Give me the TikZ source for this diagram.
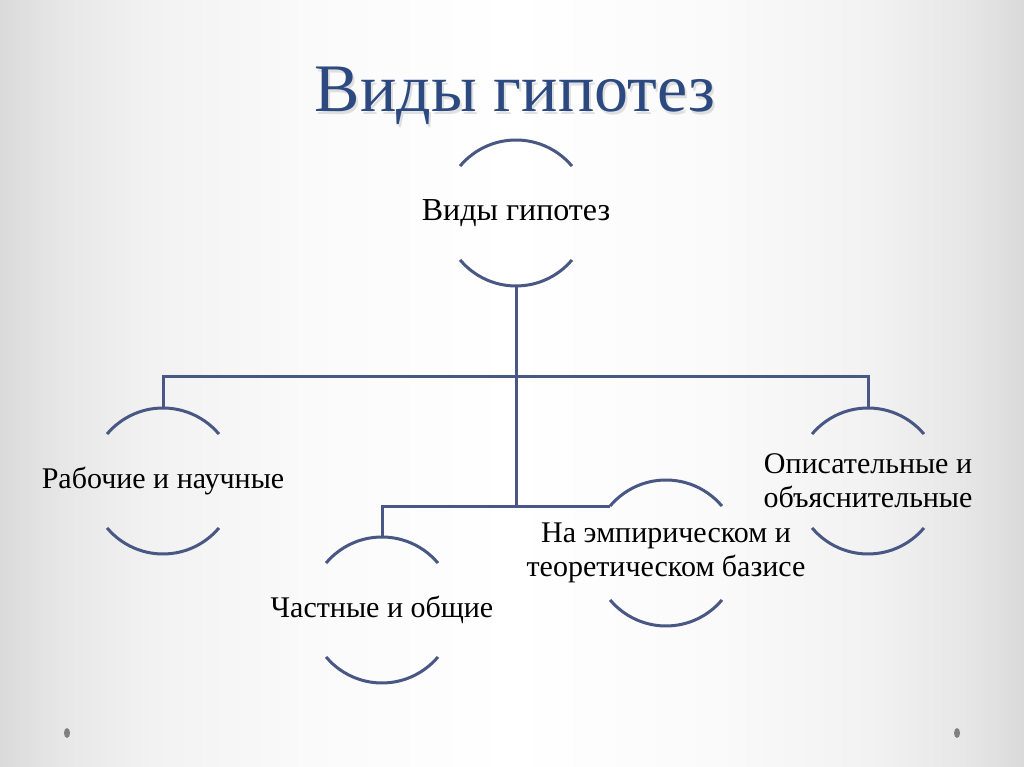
\documentclass[tikz,border=0pt]{standalone}
\usepackage{fontspec}
\setmainfont{Liberation Serif}
\definecolor{lineblue}{RGB}{72,87,132}
\definecolor{titleblue}{RGB}{44,74,128}
\definecolor{dotgray}{RGB}{128,128,128}
\definecolor{bgA}{RGB}{218,218,218}
\definecolor{bgB}{RGB}{231,231,231}
\definecolor{bgC}{RGB}{242,242,242}
\definecolor{bgD}{RGB}{250,250,250}
\pgfdeclarehorizontalshading{slidebg}{100bp}{color(0bp)=(bgA); color(25bp)=(bgA); color(28bp)=(bgB); color(32.5bp)=(bgC); color(40bp)=(bgD); color(50bp)=(white); color(60bp)=(bgD); color(67.5bp)=(bgC); color(72bp)=(bgB); color(75bp)=(bgA); color(100bp)=(bgA)}
\tikzset{
  hyp/.style={inner sep=0pt, outer sep=0pt, align=center,
              font=\fontsize{30}{34}\selectfont, text=black},
  conn/.style={draw=lineblue, line width=3pt},
  arcline/.style={draw=lineblue, line width=3pt},
  titlefont/.style={font=\fontsize{68}{80}\selectfont}
}
\begin{document}
\begin{tikzpicture}[x=1pt,y=1pt]
\useasboundingbox (0,0) rectangle (1024,767);
\shade[shading=slidebg] (0,0) rectangle (1024,767);
% title
\node[titlefont, text=gray!40, opacity=0.6] (titleshadow) at (517,668) {Виды гипотез};
\node[titlefont, text=titleblue] (title) at (515,671) {Виды гипотез};
% circle centres
\coordinate (t) at (516,554);
\coordinate (a) at (163,286);
\coordinate (b) at (382,157);
\coordinate (c) at (666,214);
\coordinate (e) at (868,286);
% texts
\node[hyp, font=\fontsize{32}{36}\selectfont] (tt) at (t) {Виды гипотез};
\node[hyp] (at) at (a) {Рабочие и научные};
\node[hyp] (bt) at (b) {Частные и общие};
\node[hyp] (ct) at (c) {На эмпирическом и\\теоретическом базисе};
\node[hyp] (et) at (e) {Описательные и\\объяснительные};
% arcs
\foreach \n in {t,a,b,c,e}{
  \draw[arcline] ([shift={(40:73)}]\n) arc[start angle=40, end angle=140, radius=73pt];
  \draw[arcline] ([shift={(220:73)}]\n) arc[start angle=220, end angle=320, radius=73pt];
}
% connector anchors on the circles
\coordinate (tS) at ([shift={(0,-73)}]t);
\coordinate (aN) at ([shift={(0,73)}]a);
\coordinate (bN) at ([shift={(0,73)}]b);
\coordinate (cW) at ([shift={(140:73)}]c);
\coordinate (eN) at ([shift={(0,73)}]e);
\coordinate (j1) at (516,390);
\coordinate (j2) at (tS |- cW);
\draw[conn] (tS) -- (j2);
\draw[conn] (aN) |- (j1) -| (eN);
\draw[conn] (bN) |- (j2) -- (cW);
% dots
\fill[dotgray] (67,34) ellipse[x radius=3pt, y radius=5pt];
\fill[dotgray] (957,34) ellipse[x radius=3pt, y radius=5pt];
\end{tikzpicture}
\end{document}
